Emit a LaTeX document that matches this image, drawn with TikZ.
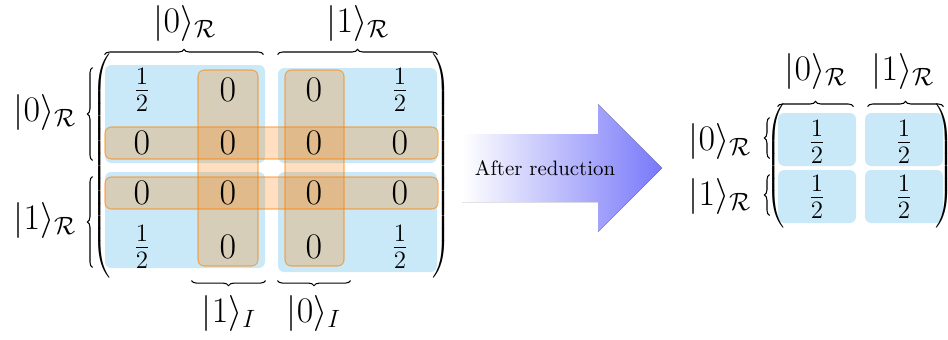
\documentclass[tikz,border=0pt]{standalone}
\definecolor{BlockBlue}{RGB}{201,233,248}
\definecolor{StripOrange}{RGB}{255,128,0}
\definecolor{ArrowBlue}{RGB}{120,120,250}
\usepackage{tikz}
\usetikzlibrary{fit,calc,decorations.pathreplacing}

\newcommand{\tallopen}[1]{$\delimitershortfall=0pt\delimiterfactor=1000\left(\vcenter{\hrule height #1 width 0pt}\right.$}
\newcommand{\tallclose}[1]{$\delimitershortfall=0pt\delimiterfactor=1000\left.\vcenter{\hrule height #1 width 0pt}\right)$}

\begin{document}
\begin{tikzpicture}[x=0.48pt, y=-0.48pt,
      every node/.style={font=\LARGE},
      blk/.style       ={fill=BlockBlue, rounded corners=3pt, inner sep=0pt},
      strip/.style     ={fill=StripOrange, fill opacity=0.25, draw=StripOrange, draw opacity=0.6,
                         line width=0.5pt, rounded corners=3pt, inner sep=0pt},
      ent/.style       ={inner sep=0pt},
      ket/.style       ={inner sep=0pt},
      delim/.style     ={inner sep=0pt, font=\normalsize},
      brc/.style       ={decorate, decoration={brace, amplitude=2.5pt}, line width=0.5pt},
  ]
  \useasboundingbox (0,0) rectangle (948,340);

  % ─ Full matrix: blue blocks ─
  \node[blk, fit={(105,65) (265,163)}]   (b00) {};
  \node[blk, fit={(278,68) (437,163)}]   (b01) {};
  \node[blk, fit={(105,172) (265,268)}]  (b10) {};
  \node[blk, fit={(278,172) (437,272)}]  (b11) {};

  % ─ Full matrix: orange strips ─
  \node[strip, fit={(198,70) (258,266)}]  (col1) {};
  \node[strip, fit={(285,70) (344,266)}]  (col2) {};
  \node[strip, fit={(105,127) (438,159)}] (row1) {};
  \node[strip, fit={(105,177) (438,209)}] (row2) {};

  % ─ Full matrix: entries ─
  \node[ent] (m11) at (142,90)  {$\frac{1}{2}$};
  \node[ent] (m12) at (228,90)  {$0$};
  \node[ent] (m13) at (314,90)  {$0$};
  \node[ent] (m14) at (400,90)  {$\frac{1}{2}$};
  \node[ent] (m21) at (142,143) {$0$};
  \node[ent] (m22) at (228,143) {$0$};
  \node[ent] (m23) at (314,143) {$0$};
  \node[ent] (m24) at (400,143) {$0$};
  \node[ent] (m31) at (142,193) {$0$};
  \node[ent] (m32) at (228,193) {$0$};
  \node[ent] (m33) at (314,193) {$0$};
  \node[ent] (m34) at (400,193) {$0$};
  \node[ent] (m41) at (142,247) {$\frac{1}{2}$};
  \node[ent] (m42) at (228,247) {$0$};
  \node[ent] (m43) at (314,247) {$0$};
  \node[ent] (m44) at (400,247) {$\frac{1}{2}$};

  \node[delim] (fullL) at (103,166) {\tallopen{104pt}};
  \node[delim] (fullR) at (440,166) {\tallclose{104pt}};

  % ─ Full matrix: braces and labels ─
  \draw[brc] ($(b00.north west)+(0,-10)$)  -- ($(b00.north east)+(-2,-10)$);
  \draw[brc] ($(b01.north west)+(0,-13)$)  -- ($(b01.north east)+(0,-13)$);
  \draw[brc] ($(b00.south west)+(-12,-3)$) -- ($(b00.north west)+(-12,3)$);
  \draw[brc] ($(b10.south west)+(-12,-1)$) -- ($(b10.north west)+(-12,5)$);
  \draw[brc] ($(col1.south east)+(7,14)$)  -- ($(col1.south west)+(-6,14)$);
  \draw[brc] ($(col2.south east)+(6,14)$)  -- ($(col2.south west)+(-7,14)$);

  \node[ket] (k0top) at (185,23)  {$|0\rangle_{\mathcal{R}}$};
  \node[ket] (k1top) at (358,23)  {$|1\rangle_{\mathcal{R}}$};
  \node[ket] (k0lft) at (45,112)  {$|0\rangle_{\mathcal{R}}$};
  \node[ket] (k1lft) at (45,220)  {$|1\rangle_{\mathcal{R}}$};
  \node[ket] (k1bot) at (229,313) {$|1\rangle_{I}$};
  \node[ket] (k0bot) at (314,313) {$|0\rangle_{I}$};

  % ─ Reduction arrow ─
  \fill[left color=white, right color=ArrowBlue]
        (462,134) -- (598,134) -- (598,104) -- (662,168) -- (598,232) -- (598,202) -- (462,202) -- cycle;
  \node[font=\normalsize] (redu) at (545,168) {After reduction};

  % ─ Reduced matrix ─
  \node[blk, fit={(778,113) (856,166)}] (r00) {};
  \node[blk, fit={(865,113) (943,166)}] (r01) {};
  \node[blk, fit={(778,170) (856,223)}] (r10) {};
  \node[blk, fit={(865,170) (943,223)}] (r11) {};

  \node[ent] (n11) at (817,142) {$\frac{1}{2}$};
  \node[ent] (n12) at (904,142) {$\frac{1}{2}$};
  \node[ent] (n21) at (817,197) {$\frac{1}{2}$};
  \node[ent] (n22) at (904,197) {$\frac{1}{2}$};

  \node[delim] (redL) at (777,166) {\tallopen{59pt}};
  \node[delim] (redR) at (943,166) {\tallclose{59pt}};

  \draw[brc] ($(r00.north west)+(0,-6)$)  -- ($(r00.north east)+(-3,-6)$);
  \draw[brc] ($(r01.north west)+(3,-6)$)  -- ($(r01.north east)+(0,-6)$);
  \draw[brc] ($(r00.south west)+(-8,-8)$) -- ($(r00.north west)+(-8,5)$);
  \draw[brc] ($(r10.south west)+(-8,-8)$) -- ($(r10.north west)+(-8,5)$);

  \node[ket] (q0top) at (816,71)  {$|0\rangle_{\mathcal{R}}$};
  \node[ket] (q1top) at (903,71)  {$|1\rangle_{\mathcal{R}}$};
  \node[ket] (q0lft) at (720,141) {$|0\rangle_{\mathcal{R}}$};
  \node[ket] (q1lft) at (720,196) {$|1\rangle_{\mathcal{R}}$};
\end{tikzpicture}
\end{document}
